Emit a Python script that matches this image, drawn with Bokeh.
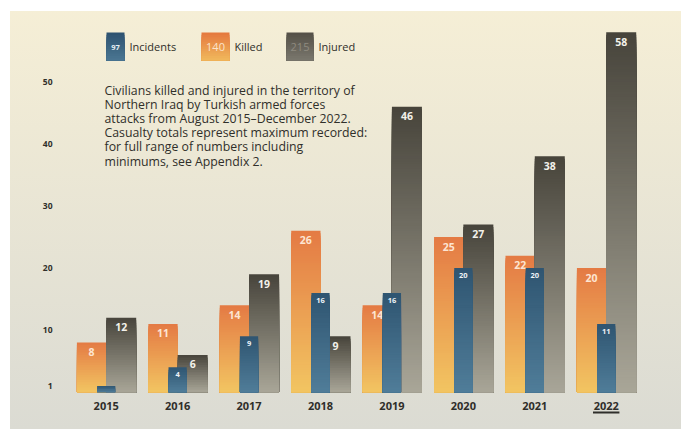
import math
from bokeh.plotting import figure
from bokeh.models import Range1d, FixedTicker, ColumnDataSource
from bokeh.core.properties import value
from bokeh.embed import file_html
from bokeh.resources import INLINE

# ---------------- data ----------------
years = ["2015", "2016", "2017", "2018", "2019", "2020", "2021", "2022"]
incidents = [1, 4, 9, 16, 16, 20, 20, 11]
killed = [8, 11, 14, 26, 14, 25, 22, 20]
injured = [12, 6, 19, 9, 46, 27, 38, 58]
y_ticks = [1, 10, 20, 30, 40, 50]
legend_labels = ["Incidents", "Killed", "Injured"]
highlight_year = "2022"
note_lines = [
    "Civilians killed and injured in the territory of",
    "Northern Iraq by Turkish armed forces",
    "attacks from August 2015\u2013December 2022.",
    "Casualty totals represent maximum recorded:",
    "for full range of numbers including",
    "minimums, see Appendix 2.",
]

# ---------------- layout (pixels) ----------------
W, H = 681, 429
FRAME_LEFT = 70         # canvas px
X0 = 105.7              # canvas x of first group centre
XS = 71.43              # px per category
Y0 = 391.7              # canvas y of baseline
YS = 6.207              # px per unit

def dx(px):
    return (px - X0) / XS

def dy(py):
    return (Y0 - py) / YS

FONT = "Open Sans"
TXT = "#302f2a"

def hex2rgb(h):
    h = h.lstrip("#")
    return tuple(int(h[i:i + 2], 16) for i in (0, 2, 4))

def mix(c1, c2, t):
    a, b = hex2rgb(c1), hex2rgb(c2)
    return "#%02x%02x%02x" % tuple(round(a[i] + (b[i] - a[i]) * t) for i in range(3))

def gradient_quads(lefts, rights, bottoms, tops, c_top, c_bot, step_px=2.5):
    rows = dict(left=[], right=[], bottom=[], top=[], color=[])
    for l, r, b, t in zip(lefts, rights, bottoms, tops):
        hpx = (t - b) * YS
        n = max(4, int(math.ceil(hpx / step_px)))
        for k in range(n):
            frac = k / n
            rows["left"].append(l)
            rows["right"].append(r)
            rows["bottom"].append(b)
            rows["top"].append(t - (t - b) * frac)
            rows["color"].append(mix(c_top, c_bot, (k + 0.5) / n))
    return ColumnDataSource(rows)

p = figure(
    width=W, height=H,
    x_range=Range1d((FRAME_LEFT - X0) / XS, (W - X0) / XS),
    y_range=Range1d(-(H - Y0) / YS, Y0 / YS),
    x_axis_location=None,
    toolbar_location=None,
    output_backend="svg",
    min_border_left=FRAME_LEFT, min_border_right=0,
    min_border_top=0, min_border_bottom=0,
)
p.background_fill_color = None
p.border_fill_color = None
p.outline_line_color = None
p.grid.visible = False
p.styles = {
    "background": (
        "linear-gradient(#ffffff, #ffffff) 0 0 / 10px 100% no-repeat, "
        "linear-gradient(#ffffff, #ffffff) 0 0 / 100% 11px no-repeat, "
        "linear-gradient(#f6efd6, #dbdbd3)"
    ),
}

yax = p.yaxis[0]
yax.ticker = FixedTicker(ticks=y_ticks)
yax.axis_line_color = None
yax.major_tick_line_color = None
yax.minor_tick_line_color = None
yax.major_label_standoff = 12
yax.major_label_text_font = FONT
yax.major_label_text_font_style = "bold"
yax.major_label_text_font_size = "8.5px"
yax.major_label_text_color = TXT

idx = list(range(len(years)))
K_OFF, K_W = -0.205, 0.41
J_OFF, J_W = 0.21, 0.42
I_W = 0.255

# killed bars
src_k = gradient_quads([i + K_OFF - K_W / 2 for i in idx], [i + K_OFF + K_W / 2 for i in idx],
                       [0] * len(idx), killed, "#e47a44", "#f2c562")
p.quad(left="left", right="right", bottom="bottom", top="top", source=src_k,
       fill_color="color", line_color=None)
# injured bars
src_j = gradient_quads([i + J_OFF - J_W / 2 for i in idx], [i + J_OFF + J_W / 2 for i in idx],
                       [0] * len(idx), injured, "#47443b", "#a9a698")
p.quad(left="left", right="right", bottom="bottom", top="top", source=src_j,
       fill_color="color", line_color=None)

# value labels
def labels(xs, vals, color, size, off_px, minval=3):
    xx = [x for x, v in zip(xs, vals) if v >= minval]
    yy = [v - off_px / YS for v in vals if v >= minval]
    tt = [str(v) for v in vals if v >= minval]
    p.text(x=xx, y=yy, text=tt, text_align="center", text_baseline="middle",
           text_font=value(FONT), text_font_style="bold", text_font_size=size,
           text_color=color)

labels([i + K_OFF for i in idx], killed, "#fde5d2", "10.5px", 9.5)
labels([i + J_OFF for i in idx], injured, "#f3f1ea", "10.5px", 9.5)

# incidents bars (overlay)
src_i = gradient_quads([i - I_W / 2 for i in idx], [i + I_W / 2 for i in idx],
                       [0] * len(idx), incidents, "#2f5571", "#507d99")
p.quad(left="left", right="right", bottom="bottom", top="top", source=src_i,
       fill_color="color", line_color=None)
labels(idx, incidents, "#eef3f6", "7.5px", 7.5)

# year labels
p.text(x=idx, y=[dy(405)] * len(idx), text=years, text_align="center",
       text_baseline="middle", text_font=value(FONT), text_font_style="bold",
       text_font_size="11px", text_color="#2f2e2a")
hi = years.index(highlight_year)
p.segment(x0=[hi - 0.185], x1=[hi + 0.185], y0=[dy(412)], y1=[dy(412)],
          line_color="#2f2e2a", line_width=2)

# legend (manual)
totals = [sum(incidents), sum(killed), sum(injured)]
box_l = [106, 201, 286]
box_r = [124, 229, 313]
box_colors = [("#2d5170", "#4b7792"), ("#e4773e", "#f1b95c"), ("#534f46", "#7b786e")]
num_colors = ["#e6eef3", "#fbe3cc", "#8f8b80"]
num_sizes = ["7.5px", "11px", "11px"]
for j in range(3):
    s = gradient_quads([dx(box_l[j])], [dx(box_r[j])], [dy(60)], [dy(32)],
                       box_colors[j][0], box_colors[j][1])
    p.quad(left="left", right="right", bottom="bottom", top="top", source=s,
           fill_color="color", line_color=None)
    p.text(x=[dx((box_l[j] + box_r[j]) / 2)], y=[dy(46.5)], text=[str(totals[j])],
           text_align="center", text_baseline="middle", text_font=value(FONT),
           text_font_style="bold" if j == 0 else "normal",
           text_font_size=num_sizes[j], text_color=num_colors[j])
    p.text(x=[dx(box_r[j] + 5)], y=[dy(45.5)], text=[legend_labels[j]],
           text_align="left", text_baseline="middle", text_font=value(FONT),
           text_font_size="11px", text_color=TXT)

# note text
p.text(x=[dx(104)] * len(note_lines),
       y=[dy(90 + 14.1 * k) for k in range(len(note_lines))],
       text=note_lines, text_align="left", text_baseline="middle",
       text_font=value(FONT), text_font_size="12.3px", text_color=TXT)

open("out.html", "w").write(file_html(p, INLINE))
